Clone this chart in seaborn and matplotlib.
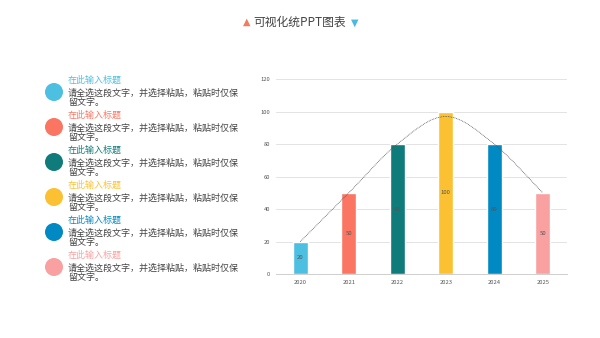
import matplotlib
matplotlib.use("Agg")
import matplotlib.pyplot as plt
from matplotlib.patches import Circle, PathPatch
from matplotlib.path import Path
import seaborn as sns
import pandas as pd
import numpy as np

# ---- data ----
years = ["2020", "2021", "2022", "2023", "2024", "2025"]
values = [20, 50, 80, 100, 80, 50]
line_values = [20, 50, 80, 97, 80, 50]
bar_colors = ["#4DBFE0", "#FA7663", "#0F7B7B", "#FBC132", "#0089C2", "#F9A0A0"]
yticks = [0, 20, 40, 60, 80, 100, 120]
title = "可视化统PPT图表"
item_titles = ["在此输入标题"] * 6
item_line1 = "请全选这段文字，并选择粘贴，粘贴时仅保"
item_line2 = "留文字。"

sns.set_theme(style="white")
plt.rcParams["font.family"] = ["Noto Sans CJK SC", "DejaVu Sans"]

fig = plt.figure(figsize=(6, 3.38), dpi=100)

# ---- bar chart ----
ax = fig.add_axes([0.46, 0.189, 0.485, 0.577])
df = pd.DataFrame({"year": years, "value": values})
sns.barplot(data=df, x="year", y="value", hue="year", palette=bar_colors,
            width=0.3, legend=False, ax=ax, saturation=1)
for c in ax.containers:
    ax.bar_label(c, label_type="center", fontsize=4.3, color="#555555")

# smooth dotted curve (Catmull-Rom as cubic Bezier)
xs = np.arange(len(line_values), dtype=float)
ys = np.array(line_values, dtype=float)
verts = [(xs[0], ys[0])]
codes = [Path.MOVETO]
n = len(xs)
for i in range(n - 1):
    p0 = np.array([xs[max(i - 1, 0)], ys[max(i - 1, 0)]])
    p1 = np.array([xs[i], ys[i]])
    p2 = np.array([xs[i + 1], ys[i + 1]])
    p3 = np.array([xs[min(i + 2, n - 1)], ys[min(i + 2, n - 1)]])
    c1 = p1 + (p2 - p0) / 6.0
    c2 = p2 - (p3 - p1) / 6.0
    verts += [tuple(c1), tuple(c2), tuple(p2)]
    codes += [Path.CURVE4] * 3
ax.add_patch(PathPatch(Path(verts, codes), facecolor="none", edgecolor="#555555",
                       lw=0.6, linestyle=(0, (1, 1)), zorder=4))

ax.set_xlim(-0.5, len(years) - 0.5)
ax.set_ylim(0, 120)
ax.set_yticks(yticks)
ax.set_xlabel("")
ax.set_ylabel("")
ax.yaxis.grid(True, color="#E3E3E3", lw=0.7)
ax.set_axisbelow(True)
for s in ["top", "right", "left"]:
    ax.spines[s].set_visible(False)
ax.spines["bottom"].set_color("#CFCFCF")
ax.spines["bottom"].set_linewidth(0.7)
ax.tick_params(axis="both", labelsize=4.2, colors="#555555", length=0, pad=4)
ax.set_xticks(np.arange(-0.5, len(years)), minor=True)
ax.tick_params(axis="x", which="minor", length=2, color="#CFCFCF", width=0.6)

# ---- title ----
fig.text(0.5, 0.935, title, ha="center", va="center", fontsize=8.5, color="#444444")
fig.text(0.412, 0.935, "▲", ha="center", va="center", fontsize=7,
         color="#F07C62", family="DejaVu Sans")
fig.text(0.592, 0.932, "▼", ha="center", va="center", fontsize=7,
         color="#4DB8E0", family="DejaVu Sans")

# ---- left list ----
lax = fig.add_axes([0, 0, 1, 1])
lax.set_xlim(0, 600)
lax.set_ylim(338, 0)
lax.axis("off")
for i, (t, col) in enumerate(zip(item_titles, bar_colors)):
    cy = 92 + 35 * i
    lax.add_patch(Circle((54, cy), 9, color=col, lw=0))
    lax.text(68, cy - 11.5, t, fontsize=6.5, color=col, va="center", ha="left")
    lax.text(68, cy + 1.0, item_line1, fontsize=6.5, color="#444444", va="center", ha="left")
    lax.text(68, cy + 10.3, item_line2, fontsize=6.5, color="#444444", va="center", ha="left")

fig.savefig("out.png", dpi=100)
